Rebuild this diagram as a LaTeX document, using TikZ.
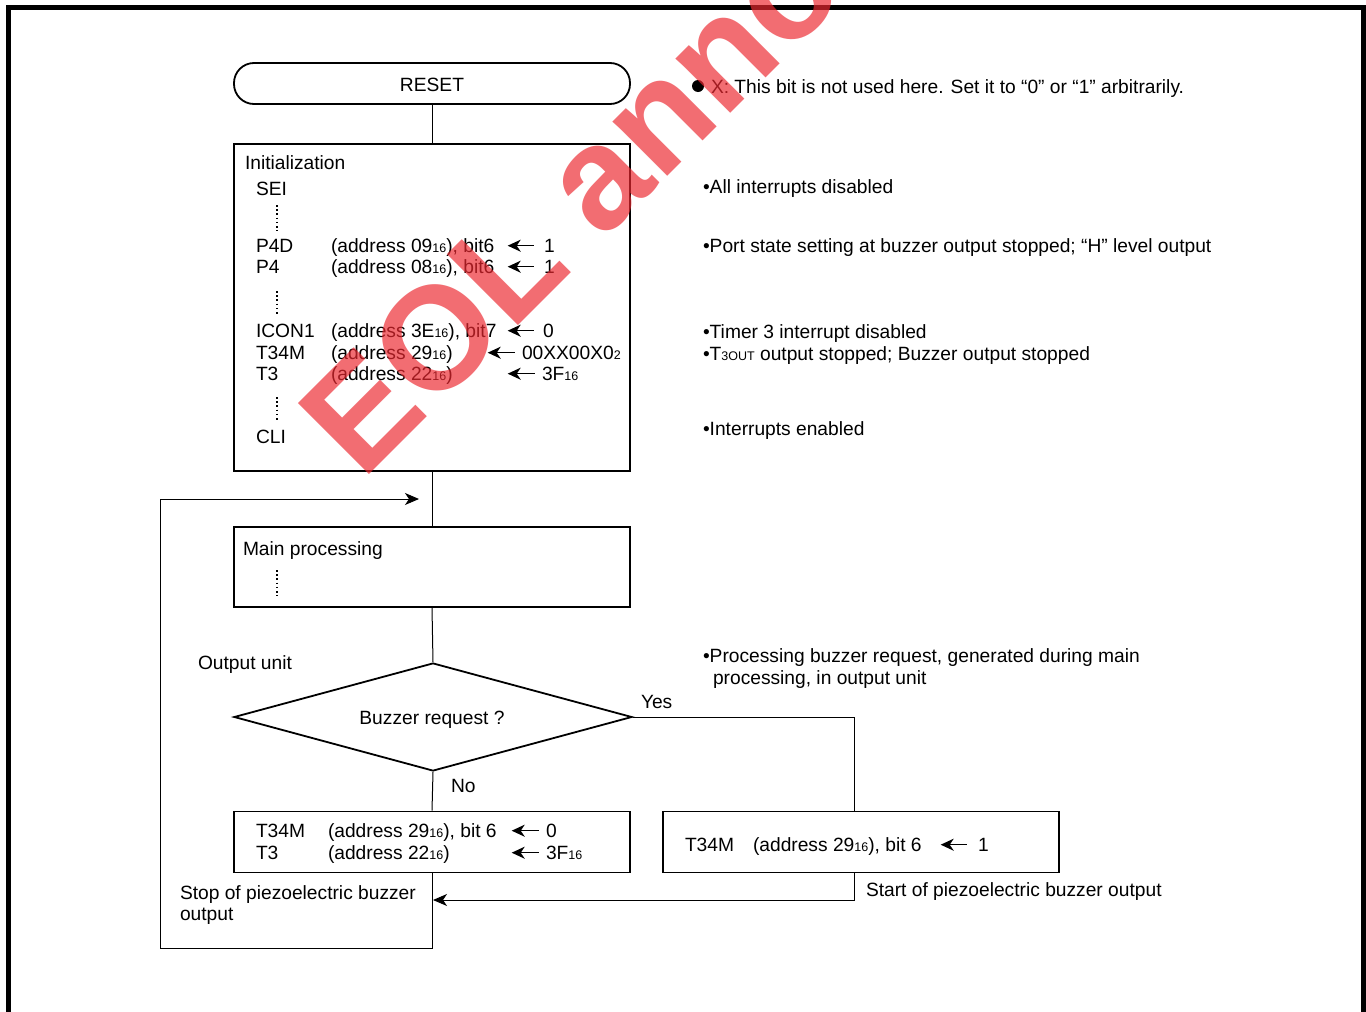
\documentclass[tikz,border=0pt]{standalone}
\usepackage{fontspec}
\setmainfont{Liberation Sans}
\usetikzlibrary{arrows.meta,shapes.geometric}
\definecolor{wmred}{RGB}{236,40,48}
\newcommand\sxt[1]{{\fontsize{12.5}{12.5}\selectfont #1}}
\newcommand\larr[1]{\tikz[baseline=-6.3pt]\draw[line width=1.4pt,-{Stealth[length=13pt,width=12pt,inset=4pt]}] (0pt,0pt)--(-#1pt,0pt);}
\begin{document}
\begin{tikzpicture}[x=1pt,y=-1pt,
  txt/.style={anchor=base west, inner sep=0pt, outer sep=0pt, font=\fontsize{19.2}{22}\selectfont},
  blk/.style={draw, line width=1.8pt, rectangle, inner sep=0pt, minimum width=396pt},
  conn/.style={line width=1pt},
  tip/.style={-{Stealth[length=14pt,width=12pt,inset=4pt]}},
  vdots/.style={line width=1.8pt, dash pattern=on 1.6pt off 2.6pt}]
\useasboundingbox (0,0) rectangle (1366,1012);
\fill[white] (0,0) rectangle (1366,1012);
% frame
\draw[line width=5pt] (8,1030) -- (8,7.5) -- (1363.5,7.5) -- (1363.5,1030);

% blocks
\node[blk, minimum height=41pt, rounded corners=20pt] (reset) at (432,83.5) {};
\node[txt, anchor=base] (resett) at (432,91) {RESET};
\node[blk, minimum height=327pt] (init) at (432,307.5) {};
\node[blk, minimum height=80pt] (main) at (432,567) {};
\node[draw, diamond, line width=1.8pt, inner sep=0pt, minimum width=398pt, minimum height=108pt] (dec) at (433,717) {};
\node[txt, anchor=base] (dect) at (432,724) {Buzzer request ?};
\node[blk, minimum height=61pt] (stop) at (432,842) {};
\node[blk, minimum height=61pt] (start) at (861,842) {};

% connectors
\coordinate (lp) at (160,948);
\coordinate (ret) at (419,499);
\coordinate (jn) at (433,900);
\draw[conn] (reset.south) -- (init.north);
\draw[conn] (init.south) -- (main.north);
\draw[conn] (main.south) -- (dec.north);
\draw[conn] (dec.south) -- (stop.north);
\draw[conn] (dec.east) -| ([xshift=-7pt]start.north);
\draw[conn,tip] ([xshift=-7pt]start.south) |- (jn);
\draw[conn,tip] (stop.south) |- (lp) |- (ret);

% initialization contents
\node[txt] (ini) at (245,169) {Initialization};
\node[txt] (sei) at (256,195) {SEI};
\draw[vdots] (277,205) -- (277,231);
\node[txt] (p4dA) at (256,252) {P4D};
\node[txt] (p4dB) at (331,252) {(address 09\sxt{16}), bit6};
\node[txt] (p4dC) at (507,252) {\larr{26}};
\node[txt] (p4dD) at (544,252) {1};
\node[txt] (p4A) at (256,273) {P4};
\node[txt] (p4B) at (331,273) {(address 08\sxt{16}), bit6};
\node[txt] (p4C) at (507,273) {\larr{26}};
\node[txt] (p4D) at (544,273) {1};
\draw[vdots] (277,291) -- (277,316);
\node[txt] (icA) at (256,337) {ICON1};
\node[txt] (icB) at (331,337) {(address 3E\sxt{16}), bit7};
\node[txt] (icC) at (507,337) {\larr{26}};
\node[txt] (icD) at (543,337) {0};
\node[txt] (tmA) at (256,359) {T34M};
\node[txt] (tmB) at (331,359) {(address 29\sxt{16})};
\node[txt] (tmC) at (487,359) {\larr{27}};
\node[txt] (tmD) at (522,359) {00XX00X0\sxt{2}};
\node[txt] (t3A) at (256,380) {T3};
\node[txt] (t3B) at (331,380) {(address 22\sxt{16})};
\node[txt] (t3C) at (507,380) {\larr{27}};
\node[txt] (t3D) at (542,380) {3F\sxt{16}};
\draw[vdots] (277,397) -- (277,422);
\node[txt] (cli) at (256,443) {CLI};

% main processing
\node[txt] (mp) at (243,555) {Main processing};
\draw[vdots] (277,570) -- (277,596);

% decision labels
\node[txt] (ou) at (198,669) {Output unit};
\node[txt] (yes) at (641,708) {Yes};
\node[txt] (no) at (451,792) {No};

% stop box
\node[txt] (s1A) at (256,837) {T34M};
\node[txt] (s1B) at (328,837) {(address 29\sxt{16}), bit 6};
\node[txt] (s1C) at (511,837) {\larr{27}};
\node[txt] (s1D) at (546,837) {0};
\node[txt] (s2A) at (256,859) {T3};
\node[txt] (s2B) at (328,859) {(address 22\sxt{16})};
\node[txt] (s2C) at (511,859) {\larr{27}};
\node[txt] (s2D) at (546,859) {3F\sxt{16}};
% start box
\node[txt] (b1A) at (685,851) {T34M};
\node[txt] (b1B) at (753,851) {(address 29\sxt{16}), bit 6};
\node[txt] (b1C) at (940,851) {\larr{26}};
\node[txt] (b1D) at (978,851) {1};

\node[txt] (stopl1) at (180,899) {Stop of piezoelectric buzzer};
\node[txt] (stopl2) at (180,920) {output};
\node[txt] (startl) at (866,896) {Start of piezoelectric buzzer output};

% notes
\fill (698,86) circle (6pt);
\node[txt] (n0) at (711,93) {X: This bit is not used here. Set it to “0” or “1” arbitrarily.};
\node[txt] (n1) at (703,193) {•All interrupts disabled};
\node[txt] (n2) at (703,252) {•Port state setting at buzzer output stopped; “H” level output};
\node[txt] (n3) at (703,338) {•Timer 3 interrupt disabled};
\node[txt] (n4) at (703,360) {•T\sxt{3OUT} output stopped; Buzzer output stopped};
\node[txt] (n5) at (703,435) {•Interrupts enabled};
\node[txt] (n6) at (703,662) {•Processing buzzer request, generated during main};
\node[txt] (n7) at (713,684) {processing, in output unit};

% watermark
\begin{scope}
\clip (0,0) rectangle (1366,1012);
\node[anchor=base west, inner sep=0pt, rotate=45, text=wmred, opacity=0.68, font=\fontsize{146}{146}\selectfont\bfseries] (wm) at (362,482) {EOL announced};
\end{scope}
\end{tikzpicture}
\end{document}
